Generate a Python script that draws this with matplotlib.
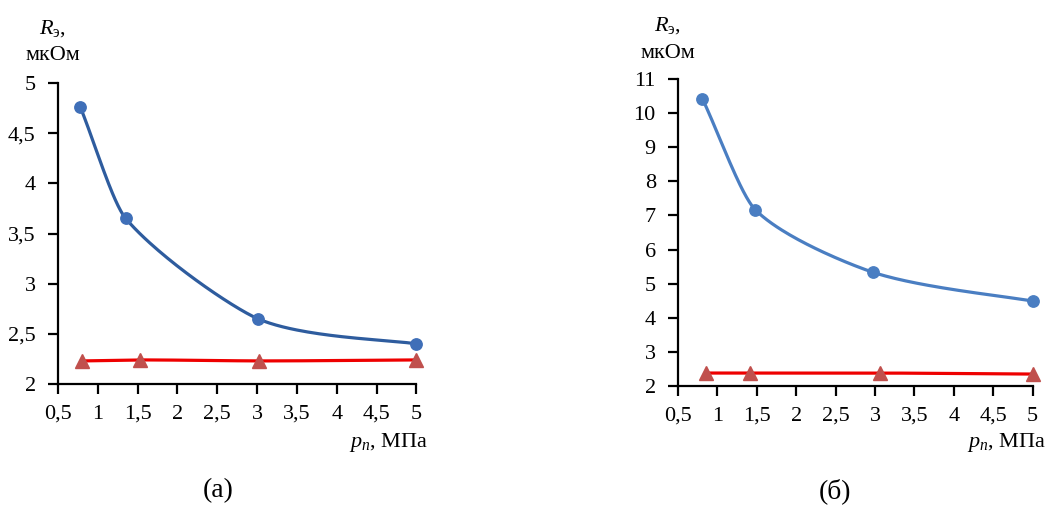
import numpy as np
import matplotlib
matplotlib.use("Agg")
import matplotlib.pyplot as plt
from matplotlib.ticker import FixedLocator, FuncFormatter

# ---- data ----
xa_blue = [0.78, 1.35, 3.01, 5.0]
ya_blue = [4.76, 3.65, 2.65, 2.40]
xa_red = [0.80, 1.53, 3.02, 5.0]
ya_red = [2.23, 2.24, 2.23, 2.24]

xb_blue = [0.81, 1.48, 2.98, 5.0]
yb_blue = [10.42, 7.17, 5.33, 4.49]
xb_red = [0.86, 1.42, 3.07, 5.0]
yb_red = [2.38, 2.38, 2.38, 2.35]

x_ticks = [0.5, 1, 1.5, 2, 2.5, 3, 3.5, 4, 4.5, 5]
ya_ticks = [2, 2.5, 3, 3.5, 4, 4.5, 5]
yb_ticks = [2, 3, 4, 5, 6, 7, 8, 9, 10, 11]
panel_labels = ["(а)", "(б)"]

plt.rcParams['font.family'] = ['Liberation Serif', 'DejaVu Serif']
plt.rcParams['mathtext.fontset'] = 'custom'
plt.rcParams['mathtext.it'] = 'Liberation Serif:italic'
plt.rcParams['mathtext.rm'] = 'Liberation Serif'

fig = plt.figure(figsize=(10.47, 5.07), dpi=100)
W, H = 1047, 507


def axes_px(x0, y0, x1, y1):
    return fig.add_axes([x0 / W, 1 - y1 / H, (x1 - x0) / W, (y1 - y0) / H])


def smooth(ax, xs, ys, n=50, k_out=0.3, k_in=0.17):
    """Excel-like smoothed curve (cubic Bezier) computed in display space."""
    pts = ax.transData.transform(np.column_stack([xs, ys]))
    P = np.vstack([pts[0], pts, pts[-1]])
    out = []
    t = np.linspace(0, 1, n)[:, None]
    for i in range(1, len(P) - 2):
        p0, p3 = P[i], P[i + 1]
        L = np.linalg.norm(p3 - p0)
        T1 = P[i + 1] - P[i - 1]
        T2 = P[i + 2] - P[i]
        c1 = p0 + T1 / np.linalg.norm(T1) * L * k_out
        c2 = p3 - T2 / np.linalg.norm(T2) * L * k_in
        seg = ((1 - t) ** 3) * p0 + 3 * ((1 - t) ** 2) * t * c1 + 3 * (1 - t) * t ** 2 * c2 + t ** 3 * p3
        out.append(seg)
    seg = np.vstack(out)
    d = ax.transData.inverted().transform(seg)
    return d[:, 0], d[:, 1]


fmt = FuncFormatter(lambda v, p: ('%g' % v).replace('.', ','))


def style(ax, ylim, yticks):
    ax.set_xlim(0.5, 5)
    ax.set_ylim(*ylim)
    for s in ['top', 'right']:
        ax.spines[s].set_visible(False)
    for s in ['left', 'bottom']:
        ax.spines[s].set_linewidth(1.6)
        ax.spines[s].set_color('black')
    ax.xaxis.set_major_locator(FixedLocator(x_ticks))
    ax.yaxis.set_major_locator(FixedLocator(yticks))
    ax.xaxis.set_major_formatter(fmt)
    ax.yaxis.set_major_formatter(fmt)
    ax.tick_params(axis='both', direction='out', length=7, width=1.6, labelsize=16, color='black')
    ax.tick_params(axis='x', pad=8)
    ax.tick_params(axis='y', pad=9)


def draw(ax, xb, yb, xr, yr, blue_line, blue_mark):
    sx, sy = smooth(ax, xb, yb)
    ax.plot(sx, sy, color=blue_line, lw=2.3, clip_on=False, zorder=3, solid_capstyle='round')
    ax.plot(xb, yb, 'o', color=blue_mark, ms=8.2, clip_on=False, zorder=4)
    rx, ry = smooth(ax, xr, yr)
    ax.plot(rx, ry, color='#EE0000', lw=2.3, clip_on=False, zorder=3)
    ax.plot(xr, yr, '^', color='#C0504D', ms=10.5, clip_on=False, zorder=4)


# left panel
ax1 = axes_px(58, 83, 416.5, 384)
style(ax1, (2, 5), ya_ticks)
draw(ax1, xa_blue, ya_blue, xa_red, ya_red, '#2E5C9E', '#3F6FB8')

# right panel
ax2 = axes_px(678, 79, 1032.5, 386)
style(ax2, (2, 11), yb_ticks)
draw(ax2, xb_blue, yb_blue, xb_red, yb_red, '#4A7EC2', '#4A7EC2')

# axis titles
fig.text(53 / W, 1 - 29 / H, r'$R_{\mathregular{э}}$,', fontsize=16, ha='center', va='center')
fig.text(53 / W, 1 - 56 / H, 'мкОм', fontsize=16, ha='center', va='center')
fig.text(668 / W, 1 - 26 / H, r'$R_{\mathregular{э}}$,', fontsize=16, ha='center', va='center')
fig.text(668 / W, 1 - 54 / H, 'мкОм', fontsize=16, ha='center', va='center')

fig.text(428 / W, 1 - 442 / H, r'$p_n$, МПа', fontsize=16, ha='right', va='center')
fig.text(1046 / W, 1 - 442 / H, r'$p_n$, МПа', fontsize=16, ha='right', va='center')

fig.text(218 / W, 1 - 491 / H, panel_labels[0], fontsize=20, ha='center', va='center')
fig.text(835 / W, 1 - 491 / H, panel_labels[1], fontsize=20, ha='center', va='center')

fig.savefig('out.png', dpi=100)
